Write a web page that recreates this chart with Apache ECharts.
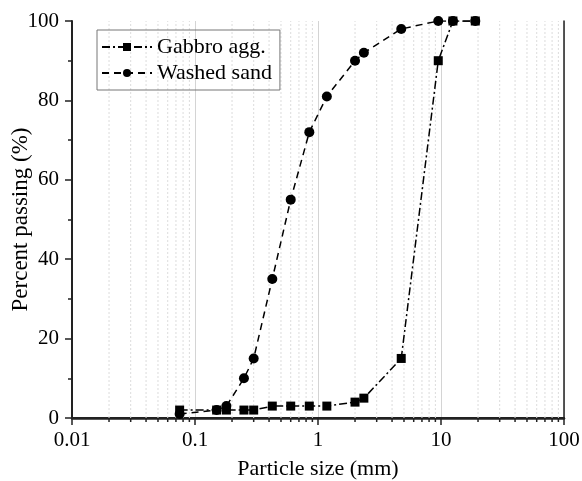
<!DOCTYPE html>
<html><head><meta charset="utf-8">
<script src="https://cdn.jsdelivr.net/npm/echarts@6/dist/echarts.min.js"></script>
<style>html,body{margin:0;padding:0;background:#fff}#c{width:582px;height:481px}</style>
</head><body><div id="c"></div>
<script>
// Particle sizes (mm) of the sieves
const sizes = [0.075, 0.15, 0.18, 0.25, 0.3, 0.425, 0.6, 0.85, 1.18, 2, 2.36, 4.75, 9.5, 12.5, 19];
// Percent passing
const gabbro = [2, 2, 2, 2, 2, 3, 3, 3, 3, 4, 5, 15, 90, 100, 100];
const sand   = [1, 2, 3, 10, 15, 35, 55, 72, 81, 90, 92, 98, 100, 100, 100];
const seriesNames = ['Gabbro agg.', 'Washed sand'];
const decades = [0.01, 0.1, 1, 10];
const minorTicks = [];
decades.forEach(d => { for (let k = 2; k <= 9; k++) minorTicks.push(+(k * d).toPrecision(3)); });

const font = 'Liberation Serif';
const axisColor = '#222';
const chart = echarts.init(document.getElementById('c'), null, {renderer: 'canvas'});
chart.setOption({
  animation: false,
  backgroundColor: '#fff',
  grid: {left: 72, right: 18, top: 21, bottom: 63, outerBoundsMode: 'none', containLabel: false},
  legend: {
    data: seriesNames,
    orient: 'vertical', left: 97, top: 30,
    borderColor: '#777', borderWidth: 1,
    padding: [6, 8, 6, 4], itemGap: 4,
    itemWidth: 50, itemHeight: 10,
    textStyle: {fontFamily: font, fontSize: 22, color: '#000'}
  },
  xAxis: [{
    type: 'log', logBase: 10, min: 0.01, max: 100,
    name: 'Particle size (mm)', nameLocation: 'middle', nameGap: 40, nameMoveOverlap: false,
    nameTextStyle: {fontFamily: font, fontSize: 22, color: '#000'},
    axisLine: {show: true, lineStyle: {color: axisColor, width: 2}},
    axisTick: {show: true, inside: false, length: 7, lineStyle: {color: axisColor, width: 1.5}},
    axisLabel: {fontFamily: font, fontSize: 21, color: '#000', margin: 12,
      formatter: v => String(+v.toPrecision(3))},
    splitLine: {show: true, lineStyle: {color: '#d4d4d4', width: 1}}
  }, {
    type: 'log', logBase: 10, min: 0.01, max: 100, position: 'top',
    axisLine: {show: true, lineStyle: {color: axisColor, width: 2.5}},
    axisTick: {show: false}, axisLabel: {show: false}, splitLine: {show: false}
  }],
  yAxis: [{
    type: 'value', min: 0, max: 100, interval: 20,
    name: 'Percent passing (%)', nameLocation: 'middle', nameGap: 40, nameMoveOverlap: false,
    nameTextStyle: {fontFamily: font, fontSize: 23, color: '#000'},
    axisLine: {show: true, lineStyle: {color: axisColor, width: 2}},
    axisTick: {show: true, inside: false, length: 7, lineStyle: {color: axisColor, width: 1.5}},
    minorTick: {show: true, splitNumber: 2, length: 4, lineStyle: {color: axisColor, width: 1.5}},
    axisLabel: {fontFamily: font, fontSize: 21, color: '#000', margin: 13},
    splitLine: {show: false}
  }, {
    type: 'value', min: 0, max: 100, interval: 20, position: 'right',
    axisLine: {show: true, lineStyle: {color: axisColor, width: 1.5}},
    axisTick: {show: false}, axisLabel: {show: false}, splitLine: {show: false}
  }],
  series: [{
    type: 'custom', name: 'minor', silent: true, z: 1,
    xAxisIndex: 0, yAxisIndex: 0,
    data: minorTicks.map(v => [v, 0]),
    renderItem: (params, api) => {
      const x = api.value(0);
      const p0 = api.coord([x, 0]);
      const p1 = api.coord([x, 100]);
      return {type: 'group', children: [
        {type: 'line', shape: {x1: p0[0], y1: p0[1], x2: p1[0], y2: p1[1]},
         style: {stroke: '#dcdcdc', lineWidth: 1, lineDash: [2, 2]}},
        {type: 'line', shape: {x1: p0[0], y1: p0[1], x2: p0[0], y2: p0[1] + 4},
         style: {stroke: axisColor, lineWidth: 1.5}}
      ]};
    }
  }, {
    type: 'line', name: seriesNames[0], z: 3,
    data: sizes.map((s, i) => [s, gabbro[i]]),
    symbol: 'rect', symbolSize: 9,
    itemStyle: {color: '#000'},
    lineStyle: {color: '#000', width: 1.5, type: [8, 3, 2, 3]}
  }, {
    type: 'line', name: seriesNames[1], z: 3,
    data: sizes.map((s, i) => [s, sand[i]]),
    symbol: 'circle', symbolSize: 10,
    itemStyle: {color: '#000'},
    lineStyle: {color: '#000', width: 1.5, type: [7, 5]}
  }]
});
</script></body></html>
